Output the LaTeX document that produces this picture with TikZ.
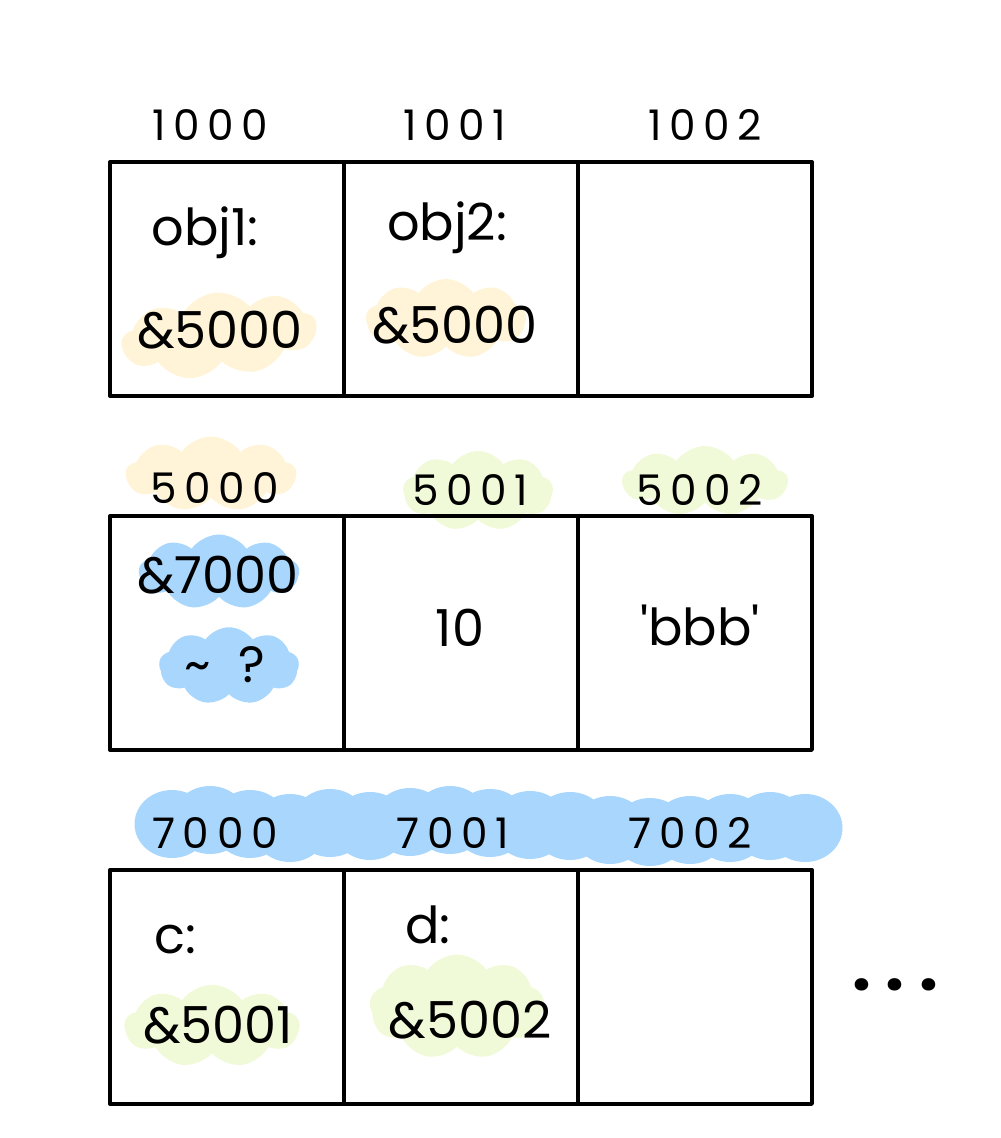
\documentclass[tikz,border=0pt]{standalone}
\usepackage{fontspec}
\setmainfont{Poppins}
\usepackage{tikz}
\usetikzlibrary{positioning,shapes.symbols}
\definecolor{MemYellow}{HTML}{FFF4D8}
\definecolor{MemGreen}{HTML}{F0FAD8}
\definecolor{MemBlue}{HTML}{A8D6FC}

\begin{document}
\begin{tikzpicture}[x=0.02cm,y=-0.02cm,node distance=2.4cm and 0pt,
  cell/.style={draw=black,line width=2.3pt,line join=round,minimum width=4.68cm,
               minimum height=4.68cm,outer sep=0pt,inner sep=0pt},
  addr/.style={font=\fontsize{24}{26}\selectfont\addfontfeature{LetterSpace=18},inner sep=0pt},
  val/.style={font=\fontsize{29}{32}\selectfont,inner sep=0pt},
  blob/.style={cloud,cloud puffs=9,cloud puff arc=110,cloud ignores aspect,
               fill=#1,draw=none,inner sep=0pt}]
  \useasboundingbox (0,0) rectangle (1000,1138);

  % highlight blobs (behind everything)
  \node[blob=MemYellow,minimum width=3.9cm,minimum height=1.7cm,rotate=6] (h1) at (219,335) {};
  \node[blob=MemYellow,minimum width=3.2cm,minimum height=1.6cm] (h2) at (446,319) {};
  \node[blob=MemYellow,minimum width=3.4cm,minimum height=1.5cm] (h3) at (211,474) {};
  \node[blob=MemGreen,minimum width=3.0cm,minimum height=1.6cm] (h4) at (478,491) {};
  \node[blob=MemGreen,minimum width=3.3cm,minimum height=1.4cm] (h5) at (705,481) {};
  \node[blob=MemBlue,minimum width=3.2cm,minimum height=1.5cm] (h6) at (219,572) {};
  \node[blob=MemBlue,minimum width=2.8cm,minimum height=1.55cm] (h7) at (229,666) {};
  \node[blob=MemGreen,minimum width=3.5cm,minimum height=1.65cm] (h9) at (212,1026) {};
  \node[blob=MemGreen,minimum width=3.5cm,minimum height=2.1cm] (h10) at (457,1007) {};
  % long blue band over 7000..7002
  \foreach \x/\dy in {172/-2,210/-6,250/-2,290/2,330/-3,370/0,410/-4,450/-6,490/-3,
                      530/-1,570/0,610/4,650/6,690/4,730/2,770/0,805/2}
    \fill[MemBlue] (\x,826+\dy) ellipse [x radius=0.75cm,y radius=0.68cm];

  % row 1
  \node[cell] (a1) at (227,279) {};
  \node[cell,right=of a1] (a2) {};
  \node[cell,right=of a2] (a3) {};
  \node[addr] (l1000) at (210,125) {1000};
  \node[addr] (l1001) at (455,125) {1001};
  \node[addr] (l1002) at (705,125) {1002};
  \node[val] (obj1) at (205,233) {obj1:};
  \node[val] (obj2) at (447,228) {obj2:};
  \node[val] (p1) at (220,330) {\&5000};
  \node[val] (p2) at (455,325) {\&5000};

  % row 2
  \node[cell,below=of a1] (b1) {};
  \node[cell,right=of b1] (b2) {};
  \node[cell,right=of b2] (b3) {};
  \node[addr] (l5000) at (215,488) {5000};
  \node[addr] (l5001) at (470,490) {5001};
  \node[addr] (l5002) at (700,490) {5002};
  \node[val] (cls) at (218,575) {\&7000};
  \node[val] (unk) at (225,665) {\textasciitilde\ \ ?};
  \node[val] (ten) at (460,628) {10};
  \node[val] (str) at (700,625) {\textquotesingle bbb\textquotesingle};

  % row 3
  \node[cell,below=of b1] (c1) {};
  \node[cell,right=of c1] (c2) {};
  \node[cell,right=of c2] (c3) {};
  \node[addr] (l7000) at (215,833) {7000};
  \node[addr] (l7001) at (453,833) {7001};
  \node[addr] (l7002) at (690,833) {7002};
  \node[val] (vc) at (175,940) {c:};
  \node[val] (vd) at (428,925) {d:};
  \node[val] (pc) at (218,1025) {\&5001};
  \node[val] (pd) at (470,1020) {\&5002};
  \node[val,font=\fontsize{38}{38}\selectfont\bfseries\addfontfeature{LetterSpace=22}] (more) at (895,985) {...};
\end{tikzpicture}
\end{document}
